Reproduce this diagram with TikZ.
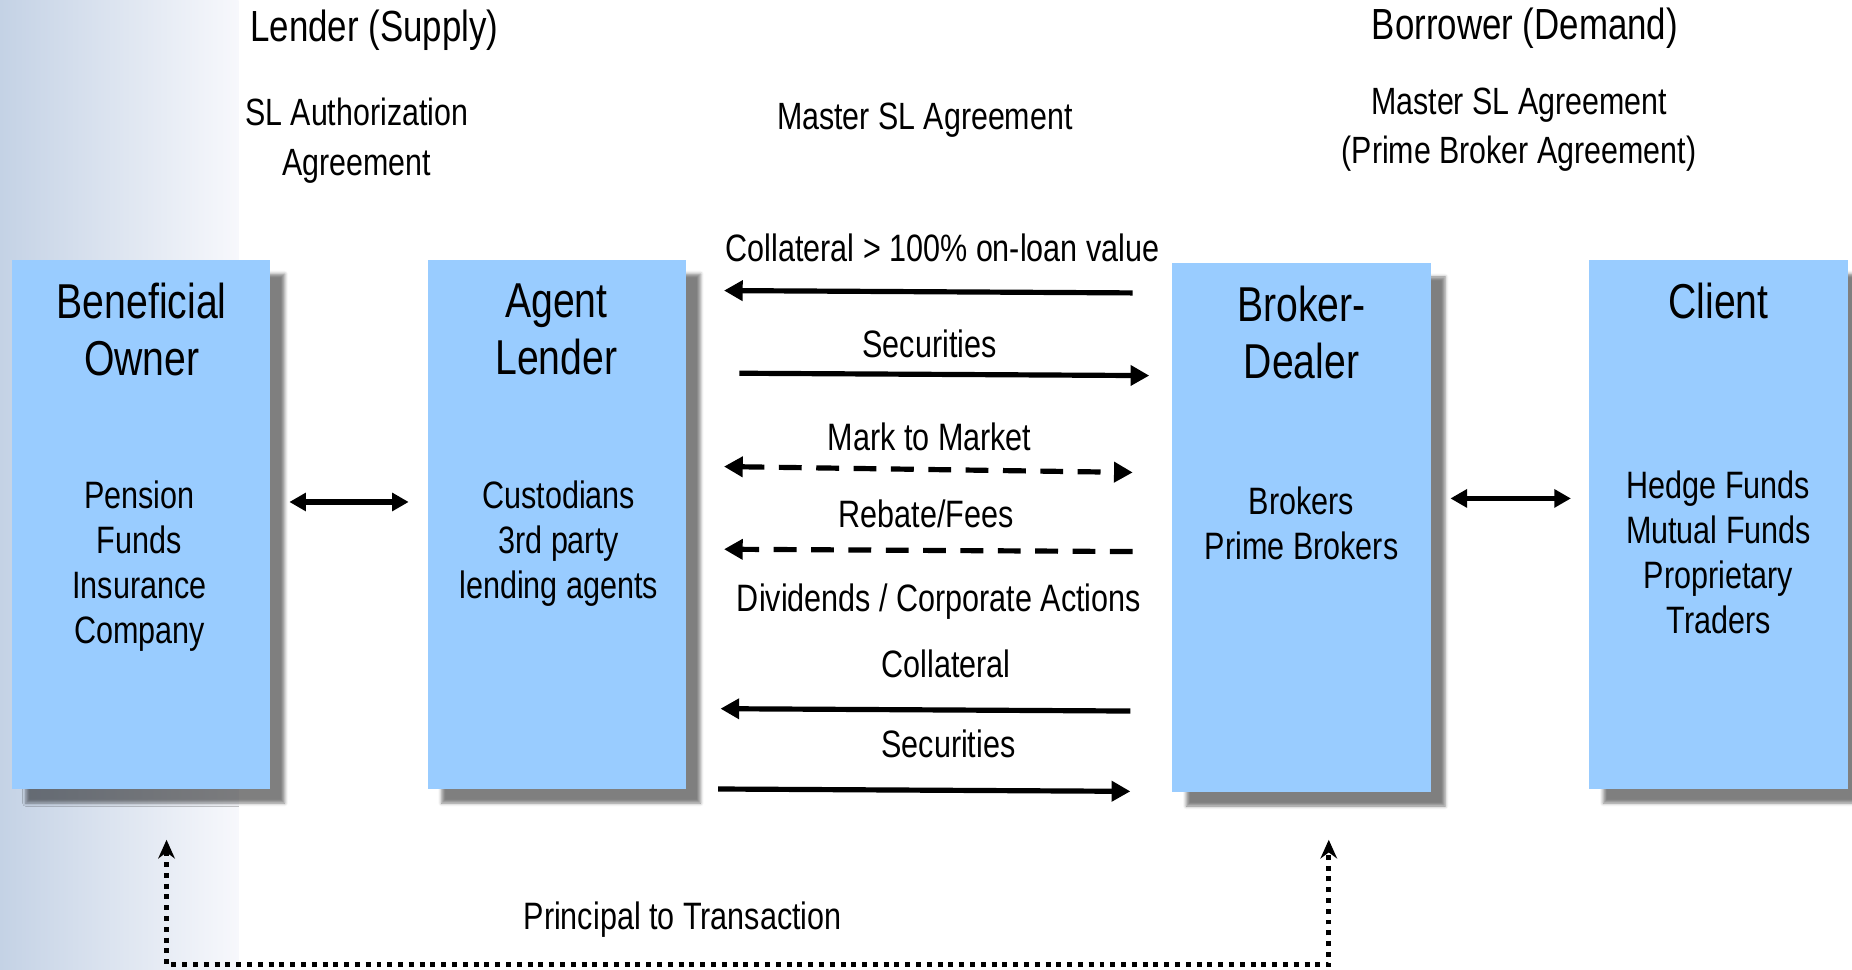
\documentclass[tikz,border=0pt]{standalone}
\usepackage{fontspec}
\setmainfont{Liberation Sans}[FakeStretch=0.8]
\usetikzlibrary{arrows.meta,shadows.blur}
\definecolor{boxblue}{RGB}{153,204,255}
\definecolor{panelblue}{RGB}{196,210,229}
\definecolor{panelwhite}{RGB}{247,248,252}

\begin{document}
\begin{tikzpicture}[x=0.02cm, y=-0.02cm,
    box/.style={fill=boxblue, minimum width=4.38cm, minimum height=8.96cm, inner sep=0pt,
      blur shadow={shadow xshift=6.8pt, shadow yshift=-6.8pt, shadow blur radius=1.6pt, shadow opacity=50}},
    title/.style={font=\fontsize{23.6}{27.2}\selectfont, align=center},
    sub/.style={font=\fontsize{18.4}{21.7}\selectfont, align=center},
    head/.style={font=\fontsize{18.3}{23.8}\selectfont, align=center},
    bighead/.style={font=\fontsize{21}{25}\selectfont},
    lbl/.style={font=\fontsize{18.4}{21.7}\selectfont},
    flow/.style={line width=2.5pt, -{Triangle[length=9pt, width=9.5pt]}},
    dflow/.style={line width=2.5pt, dash pattern=on 11pt off 7pt},
    link/.style={line width=2.5pt, {Triangle[length=8pt, width=8.5pt]}-{Triangle[length=8pt, width=8.5pt]}},
    dots/.style={line width=2.4pt, dash pattern=on 2.4pt off 2.8pt, {Stealth[length=9pt, width=8pt]}-{Stealth[length=9pt, width=8pt]}}]
      \useasboundingbox (0,0) rectangle (1568,821);
      \shade[left color=panelblue, right color=panelwhite] (0,0) rectangle (202,821);

      % Boxes
      \node[box] (owner) at (119.5, 444) {};
      \node[box] (agent) at (471.5, 444) {};
      \node[box] (broker) at (1102, 446.5) {};
      \node[box] (client) at (1455, 444) {};

      % Box texts
      \node[title] (ownertitle) at (120, 279) {Beneficial\\Owner};
      \node[title] (agenttitle) at (471, 279) {Agent\\Lender};
      \node[title] (brokertitle) at (1102, 281.5) {Broker-\\Dealer};
      \node[title] (clienttitle) at (1455, 255) {Client};
      \node[sub] (ownerkinds) at (118, 479) {Pension\\Funds\\Insurance\\Company};
      \node[sub] (agentkinds) at (473, 460) {Custodians\\3rd party\\lending agents};
      \node[sub] (brokerkinds) at (1102, 443) {Brokers\\Prime Brokers};
      \node[sub] (clientkinds) at (1455, 468) {Hedge Funds\\Mutual Funds\\Proprietary\\Traders};

      % Headings
      \node[bighead] (supply) at (317, 26) {Lender (Supply)};
      \node[bighead] (demand) at (1291, 24) {Borrower (Demand)};
      \node[head] (auth) at (302, 119) {SL Authorization\\Agreement};
      \node[head] (master) at (783, 102) {Master SL Agreement};
      \node[head] (prime) at (1286, 110) {Master SL Agreement\\(Prime Broker Agreement)};

      % Flow labels
      \node[lbl] (collat) at (798, 210) {Collateral > 100\% on-loan value};
      \node[lbl] (secs) at (787, 291) {Securities};
      \node[lbl] (mtm) at (787, 370) {Mark to Market};
      \node[lbl] (fees) at (784, 435) {Rebate/Fees};
      \node[lbl] (divs) at (795, 509) {Dividends / Corporate Actions};
      \node[lbl] (collatb) at (801, 562) {Collateral};
      \node[lbl] (secsb) at (803, 630) {Securities};
      \node[lbl] (principal) at (578, 779) {Principal to Transaction};

      % Arrow ends
      \coordinate (collatR) at (959, 248);
      \coordinate (collatL) at (613, 246);
      \coordinate (secsL) at (626, 316);
      \coordinate (secsR) at (973, 318);
      \coordinate (mtmL) at (613, 395);
      \coordinate (mtmR) at (959, 400);
      \coordinate (feesR) at (959, 467);
      \coordinate (feesL) at (613, 465);
      \coordinate (collatbR) at (957, 602);
      \coordinate (collatbL) at (610, 600);
      \coordinate (secsbL) at (608, 668);
      \coordinate (secsbR) at (957, 670);
      \coordinate (ownerR) at (245, 425);
      \coordinate (agentL) at (346, 425);
      \coordinate (brokerR) at (1228, 422);
      \coordinate (clientL) at (1330, 422);
      \coordinate (ownerB) at (141, 711);
      \coordinate (cornerL) at (141, 817);
      \coordinate (brokerB) at (1125, 711);

      % Edges
      \draw[flow] (collatR) -- (collatL);
      \draw[flow] (secsL) -- (secsR);
      \draw[dflow, {Triangle[length=9pt, width=9.5pt]}-{Triangle[length=9pt, width=9.5pt]}] (mtmL) -- (mtmR);
      \draw[dflow, -{Triangle[length=9pt, width=9.5pt]}] (feesR) -- (feesL);
      \draw[flow] (collatbR) -- (collatbL);
      \draw[flow] (secsbL) -- (secsbR);
      \draw[link] (ownerR) -- (agentL);
      \draw[link] (brokerR) -- (clientL);
      \draw[dots] (ownerB) -- (cornerL) -| (brokerB);
\end{tikzpicture}
\end{document}
